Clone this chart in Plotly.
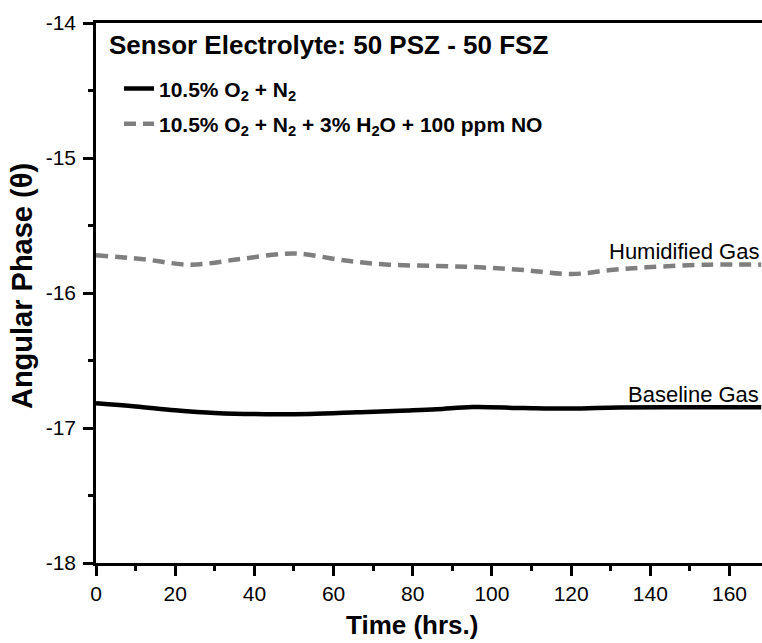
import plotly.graph_objects as go

# Data
t_base = [0, 10, 20, 30, 43, 54, 66, 77, 86, 95, 108, 120, 132, 150, 168]
v_base = [-16.817, -16.84, -16.868, -16.888, -16.898, -16.896, -16.884, -16.872,
          -16.862, -16.845, -16.852, -16.856, -16.848, -16.846, -16.846]

t_hum = [0, 12, 24, 36, 47, 52, 63, 74, 86, 97, 108, 120, 130, 139, 155, 168]
v_hum = [-15.72, -15.75, -15.79, -15.75, -15.71, -15.71, -15.76, -15.79, -15.80,
         -15.81, -15.83, -15.86, -15.83, -15.81, -15.79, -15.79]

name_base = "10.5% O<sub>2</sub> + N<sub>2</sub>"
name_hum = "10.5% O<sub>2</sub> + N<sub>2</sub> + 3% H<sub>2</sub>O + 100 ppm NO"
title_text = "Sensor Electrolyte: 50 PSZ - 50 FSZ"
x_title = "Time (hrs.)"
y_title = "Angular Phase (\u03b8)"
x_ticks = [0, 20, 40, 60, 80, 100, 120, 140, 160]
y_ticks = [-14, -15, -16, -17, -18]

FONT = "Liberation Sans, Arial"

fig = go.Figure()
fig.add_trace(go.Scatter(x=t_base, y=v_base, mode="lines", name=name_base, legendgroup="a",
                         line=dict(color="black", width=4.5, shape="spline")))
fig.add_trace(go.Scatter(x=t_hum, y=v_hum, mode="lines", name=name_hum, legendgroup="b",
                         line=dict(color="#7f7f7f", width=4.5, dash="12px,7px", shape="spline")))

fig.add_annotation(text="<b>" + title_text + "</b>", xref="paper", yref="paper",
                   x=0.0165, y=0.959, xanchor="left", yanchor="middle", showarrow=False,
                   font=dict(size=26, color="black", family=FONT))
fig.add_annotation(text="Humidified Gas", xref="paper", yref="y", x=0.998, y=-15.695,
                   xanchor="right", yanchor="middle", showarrow=False,
                   font=dict(size=22, color="black", family=FONT))
fig.add_annotation(text="Baseline Gas", xref="paper", yref="y", x=0.998, y=-16.755,
                   xanchor="right", yanchor="middle", showarrow=False,
                   font=dict(size=22, color="black", family=FONT))
fig.add_annotation(text="<b>" + x_title + "</b>", xref="paper", yref="paper",
                   x=0.474, y=-0.115, xanchor="center", yanchor="middle", showarrow=False,
                   font=dict(size=26, color="black", family=FONT))
fig.add_annotation(text="<b>" + y_title + "</b>", xref="paper", yref="paper",
                   x=-0.111, y=0.513, xanchor="center", yanchor="middle", showarrow=False,
                   textangle=-90, font=dict(size=29, color="black", family=FONT))

fig.update_layout(
    width=762, height=643,
    margin=dict(l=96, r=0, t=23, b=80),
    plot_bgcolor="white", paper_bgcolor="white",
    showlegend=True,
    legend=dict(x=0.0345, y=0.916, xanchor="left", yanchor="top",
                bgcolor="rgba(0,0,0,0)", tracegroupgap=5, itemwidth=30,
                font=dict(size=21, color="black", family=FONT, weight="bold")),
    xaxis=dict(range=[0, 168.2], tickvals=x_ticks, ticks="outside", ticklen=10, tickwidth=2.5,
               tickcolor="black", showline=True, linecolor="black", linewidth=2.5,
               mirror=True, showgrid=False, zeroline=False,
               minor=dict(dtick=10, ticks="outside", ticklen=5, tickwidth=2.5, tickcolor="black"),
               tickfont=dict(size=21, color="black", family=FONT)),
    yaxis=dict(range=[-18, -14], tickvals=y_ticks, ticktext=[str(v) for v in y_ticks],
               ticks="outside", ticklen=10, tickwidth=2.5,
               tickcolor="black", showline=True, linecolor="black", linewidth=2.5,
               showgrid=False, zeroline=False, ticklabelstandoff=3,
               minor=dict(dtick=0.5, ticks="outside", ticklen=5, tickwidth=2.5, tickcolor="black"),
               tickfont=dict(size=21, color="black", family=FONT)),
)

fig.write_html("out.html", config={"displayModeBar": False},
               post_script="document.body.style.margin='0';")
